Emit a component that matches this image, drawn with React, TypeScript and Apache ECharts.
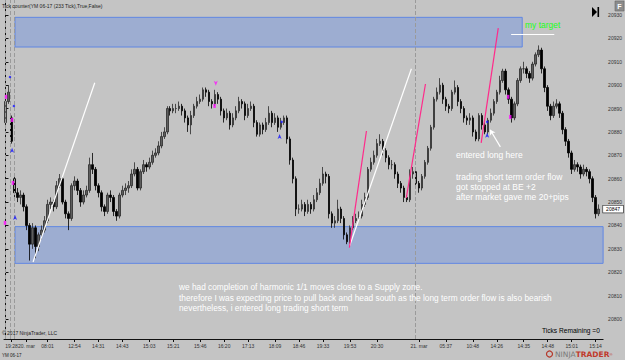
import React, { useEffect, useRef } from 'react';
import * as echarts from 'echarts';

// ---- candle data (233-tick bars, YM 06-17) ----
const opens = [
  20884, 20893, 20886,
  20860, 20854, 20852, 20853, 20848, 20840, 20832, 20839, 20831, 20836,
  20838, 20842, 20849, 20850, 20848, 20857, 20860, 20850, 20845, 20843,
  20857, 20859, 20855, 20850, 20853, 20855, 20866, 20864, 20857, 20854,
  20848, 20846, 20853, 20852, 20846, 20844, 20853, 20855, 20856, 20857,
  20862, 20864, 20856, 20863, 20866, 20865, 20867, 20870, 20871, 20874,
  20878, 20880, 20890, 20889, 20890, 20890, 20891, 20889, 20886, 20883,
  20887, 20891, 20893, 20894, 20898, 20897, 20893, 20892, 20896, 20894,
  20889, 20886, 20888, 20883, 20886, 20889, 20893, 20892, 20887, 20890,
  20891, 20884, 20879, 20883, 20881, 20884, 20888, 20884, 20886, 20882,
  20884, 20886, 20877, 20868, 20860, 20847, 20847, 20849, 20846, 20849,
  20847, 20851, 20854, 20858, 20862, 20861, 20845, 20841, 20842, 20847,
  20843, 20836, 20833, 20839, 20842, 20843, 20844, 20849, 20852, 20864,
  20867, 20870, 20875, 20876, 20872, 20869, 20866, 20866, 20862, 20858,
  20856, 20852, 20851, 20862, 20863, 20858, 20856, 20861, 20867, 20873,
  20882, 20894, 20897, 20900, 20894, 20891, 20890, 20897, 20899, 20893,
  20890, 20886, 20885, 20886, 20880, 20877, 20887, 20883, 20880, 20885,
  20888, 20893, 20897, 20902, 20906, 20898, 20894, 20886, 20892, 20902,
  20907, 20907, 20905, 20903, 20909, 20913, 20915, 20907, 20899, 20891,
  20887, 20891, 20892, 20888, 20881, 20876, 20871, 20864, 20866, 20865,
  20862, 20864, 20863, 20860, 20852, 20845,
];
const closes = [
  20893, 20897, 20876,
  20854, 20852, 20853, 20848, 20840, 20832, 20839, 20831, 20836, 20838,
  20842, 20849, 20850, 20848, 20857, 20860, 20850, 20845, 20843, 20857,
  20859, 20855, 20850, 20853, 20855, 20866, 20864, 20857, 20854, 20848,
  20846, 20853, 20852, 20846, 20844, 20853, 20855, 20856, 20857, 20862,
  20864, 20856, 20863, 20866, 20865, 20867, 20870, 20871, 20874, 20878,
  20880, 20890, 20889, 20890, 20890, 20891, 20889, 20886, 20883, 20887,
  20891, 20893, 20894, 20898, 20897, 20893, 20892, 20896, 20894, 20889,
  20886, 20888, 20883, 20886, 20889, 20893, 20892, 20887, 20890, 20891,
  20884, 20879, 20883, 20881, 20884, 20888, 20884, 20886, 20882, 20884,
  20886, 20877, 20868, 20860, 20847, 20847, 20849, 20846, 20849, 20847,
  20851, 20854, 20858, 20862, 20861, 20845, 20841, 20842, 20847, 20843,
  20836, 20833, 20839, 20842, 20843, 20844, 20849, 20852, 20864, 20867,
  20870, 20875, 20876, 20872, 20869, 20866, 20866, 20862, 20858, 20856,
  20852, 20851, 20862, 20863, 20858, 20856, 20861, 20867, 20873, 20882,
  20894, 20897, 20900, 20894, 20891, 20890, 20897, 20899, 20893, 20890,
  20886, 20885, 20886, 20880, 20877, 20887, 20883, 20880, 20885, 20888,
  20893, 20897, 20902, 20906, 20898, 20894, 20886, 20892, 20902, 20907,
  20907, 20905, 20903, 20909, 20913, 20915, 20907, 20899, 20891, 20887,
  20891, 20892, 20888, 20881, 20876, 20871, 20864, 20866, 20865, 20862,
  20864, 20863, 20860, 20852, 20845, 20847,
];
const highs = [
  20894, 20900, 20887,
  20861, 20856, 20855, 20854, 20849, 20841, 20841, 20840, 20837, 20840,
  20844, 20851, 20852, 20851, 20859, 20862, 20861, 20851, 20846, 20858,
  20861, 20860, 20856, 20855, 20857, 20869, 20871, 20865, 20858, 20855,
  20849, 20854, 20855, 20853, 20847, 20854, 20857, 20858, 20859, 20864,
  20867, 20865, 20864, 20868, 20867, 20869, 20872, 20873, 20876, 20880,
  20882, 20891, 20891, 20892, 20892, 20893, 20892, 20890, 20887, 20889,
  20892, 20895, 20896, 20899, 20899, 20898, 20894, 20898, 20897, 20895,
  20890, 20890, 20889, 20888, 20891, 20895, 20894, 20893, 20892, 20893,
  20892, 20885, 20884, 20884, 20886, 20891, 20889, 20888, 20887, 20886,
  20887, 20887, 20878, 20869, 20861, 20849, 20851, 20850, 20851, 20850,
  20853, 20856, 20860, 20865, 20863, 20862, 20846, 20844, 20851, 20848,
  20844, 20837, 20840, 20844, 20845, 20846, 20851, 20854, 20865, 20869,
  20872, 20877, 20879, 20877, 20873, 20870, 20868, 20867, 20863, 20859,
  20857, 20853, 20864, 20865, 20864, 20859, 20862, 20868, 20874, 20883,
  20895, 20899, 20903, 20901, 20895, 20892, 20898, 20902, 20900, 20894,
  20891, 20887, 20888, 20887, 20881, 20888, 20888, 20884, 20886, 20890,
  20894, 20898, 20904, 20907, 20907, 20899, 20895, 20893, 20903, 20908,
  20910, 20908, 20906, 20910, 20914, 20917, 20916, 20908, 20900, 20892,
  20893, 20894, 20893, 20889, 20882, 20877, 20872, 20868, 20867, 20866,
  20866, 20865, 20864, 20861, 20853, 20849,
];
const lows = [
  20882, 20892, 20875,
  20851, 20850, 20849, 20846, 20838, 20825, 20830, 20826, 20829, 20834,
  20837, 20841, 20847, 20846, 20847, 20856, 20849, 20843, 20838, 20842,
  20855, 20853, 20848, 20849, 20852, 20854, 20862, 20855, 20852, 20846,
  20844, 20845, 20850, 20844, 20842, 20843, 20852, 20853, 20854, 20856,
  20861, 20855, 20855, 20862, 20863, 20864, 20866, 20869, 20870, 20873,
  20877, 20879, 20887, 20888, 20888, 20889, 20887, 20884, 20880, 20879,
  20886, 20890, 20892, 20893, 20895, 20891, 20890, 20891, 20892, 20887,
  20884, 20885, 20881, 20882, 20885, 20888, 20890, 20885, 20886, 20889,
  20882, 20878, 20878, 20879, 20880, 20883, 20882, 20883, 20880, 20881,
  20883, 20875, 20866, 20858, 20844, 20845, 20846, 20844, 20845, 20845,
  20846, 20850, 20853, 20857, 20858, 20843, 20839, 20839, 20841, 20841,
  20834, 20832, 20832, 20838, 20841, 20842, 20843, 20848, 20851, 20863,
  20866, 20869, 20874, 20870, 20867, 20864, 20864, 20860, 20856, 20854,
  20850, 20850, 20850, 20860, 20856, 20854, 20855, 20860, 20866, 20872,
  20881, 20893, 20896, 20892, 20889, 20888, 20889, 20896, 20891, 20888,
  20884, 20883, 20883, 20878, 20876, 20876, 20881, 20879, 20879, 20884,
  20887, 20892, 20896, 20901, 20896, 20892, 20884, 20885, 20891, 20901,
  20905, 20903, 20901, 20902, 20908, 20912, 20905, 20897, 20889, 20885,
  20886, 20890, 20886, 20879, 20874, 20869, 20862, 20863, 20863, 20860,
  20861, 20861, 20858, 20850, 20843, 20844,
];

const CATEGORY_COUNT = 200;
const xTickLabels: [number, string][] = [
  [2, '19:28'], [7, '20. mar'], [14, '08:01'], [23, '12:54'], [31, '14:31'],
  [39, '14:43'], [48, '15:03'], [56, '15:21'], [65, '15:46'], [73, '16:20'],
  [81, '17:13'], [90, '18:09'], [98, '18:46'], [106, '19:33'], [115, '19:53'],
  [124, '20:30'], [138, '21. mar'], [147, '05:37'], [156, '10:48'], [164, '14:26'],
  [173, '14:35'], [181, '14:48'], [189, '15:01'], [197, '15:14'],
];
const Y_MIN = 20791.45;
const Y_MAX = 20936.41;

// zones: [xStart, priceTop, xEnd, priceBottom] in bar-index / price units
const targetZone = [3.17, 20929, 172.5, 20916.3];
const supplyZone = [3.17, 20839.5, 199.5, 20823.8];
const sessionBreaks = [-0.1, 1.6, 2.9];
const dayBreak = [136.8];

const whiteLines = [
  [[9.2, 20824.4], [29.8, 20901]],
  [[114.8, 20831], [135.5, 20907]],
  [[168.8, 20921.9], [183.2, 20921.9]],
];
const pinkLines = [
  [[114.8, 20830.5], [120.5, 20880.4]],
  [[133.8, 20851.8], [140.2, 20900.5]],
  [[158.8, 20875.3], [164.5, 20924.4]],
];
const entryArrow = [[165.2, 20873.6], [161.8, 20880.9]];

const blueDots = [[1.5, 20903.5], [2.8, 20891.1], [92.2, 20884.3], [160.8, 20884.3]];
const blueUpArrows = [[2.2, 20873.2], [3.2, 20844.5], [91.5, 20879.1], [160.8, 20879.6]];
const magentaMarks = [[0.17, 20895], [2.2, 20885.1], [2.5, 20858.2], [-0.17, 20841.1], [69.8, 20891.1], [167.8, 20895], [168.5, 20886.4]];
const magentaDownArrows = [[70.2, 20899.7]];

const FONT = '"Liberation Sans", Arial, sans-serif';

function App() {
  const ref = useRef<HTMLDivElement>(null);
  useEffect(() => {
    if (!ref.current) return;
    const chart = echarts.init(ref.current, undefined, { renderer: 'svg' });
    const labelMap: Record<number, string> = {};
    xTickLabels.forEach(([i, s]) => (labelMap[i] = s));
    const categories = Array.from({ length: CATEGORY_COUNT }, (_, i) => String(i));
    const candleData = opens.map((o, i) => [o, closes[i], lows[i], highs[i]]);
    const lastClose = closes[closes.length - 1];

    const texts = (items: { t: string; x: number; y: number; size: number; fill: string; font?: string }[]) =>
      items.map((it) => ({
        type: 'text',
        x: it.x,
        y: it.y,
        silent: true,
        z: 100,
        style: { text: it.t, fill: it.fill, fontSize: it.size, fontFamily: it.font || FONT, verticalAlign: 'middle' },
      }));

    chart.setOption({
      animation: false,
      backgroundColor: '#c4c4c4',
      textStyle: { fontFamily: FONT },
      grid: { left: 4, right: 21, top: 0, bottom: 21 },
      xAxis: [
        {
          type: 'category',
          data: categories,
          boundaryGap: true,
          axisLine: { show: true, lineStyle: { color: '#111', width: 1 } },
          axisTick: {
            show: true,
            alignWithLabel: true,
            length: 3,
            interval: (i: number) => labelMap[i] !== undefined,
            lineStyle: { color: '#111' },
          },
          axisLabel: {
            interval: 0,
            fontSize: 5,
            color: '#333',
            margin: 4,
            formatter: (_v: string, i: number) => labelMap[i] || '',
          },
          splitLine: { show: false },
        },
        { type: 'value', min: -0.5, max: CATEGORY_COUNT - 0.5, show: false },
      ],
      yAxis: {
        type: 'value',
        position: 'right',
        min: Y_MIN,
        max: Y_MAX,
        splitNumber: 14,
        axisLine: { show: true, lineStyle: { color: '#111', width: 1 } },
        axisTick: { show: true, length: 3, lineStyle: { color: '#111' } },
        axisLabel: {
          fontSize: 5,
          color: '#333',
          margin: 5,
          showMinLabel: false,
          showMaxLabel: false,
          formatter: (v: number) => {
            const r = Math.round(v);
            return Math.abs(v - r) < 0.01 && r % 10 === 0 ? String(r) : '';
          },
        },
        splitLine: { show: false },
      },
      series: [
        {
          type: 'line',
          xAxisIndex: 1,
          data: [],
          z: 1,
          silent: true,
          markLine: {
            silent: true,
            symbol: ['none', 'none'],
            label: { show: false },
            lineStyle: { color: '#9a9a9a', type: 'dashed', width: 1 },
            data: [...sessionBreaks, ...dayBreak].map((v) => ({ xAxis: v })),
          },
        },
        {
          type: 'candlestick',
          data: candleData,
          barWidth: 2,
          z: 2,
          itemStyle: {
            color: '#5e5e5e',
            color0: '#000',
            borderColor: '#2a2a2a',
            borderColor0: '#000',
            borderWidth: 0.8,
          },
          markLine: {
            silent: true,
            symbol: ['none', 'none'],
            lineStyle: { color: 'transparent', width: 0 },
            label: {
              show: true,
              position: 'end',
              distance: 0,
              formatter: String(lastClose),
              backgroundColor: '#ffffff',
              borderColor: '#222',
              borderWidth: 0.6,
              padding: [1, 3],
              fontSize: 5,
              color: '#000',
            },
            data: [{ yAxis: lastClose }],
          },
        },
        {
          type: 'line',
          xAxisIndex: 1,
          data: [],
          z: 3,
          silent: true,
          markArea: {
            silent: true,
            itemStyle: { color: 'rgba(100,140,230,0.4)', borderColor: '#6187e2', borderWidth: 1 },
            data: [targetZone, supplyZone].map((z) => [
              { coord: [z[0], z[1]] },
              { coord: [z[2], z[3]] },
            ]),
          },
        },
        {
          type: 'line',
          xAxisIndex: 1,
          data: [],
          z: 4,
          silent: true,
          markLine: {
            silent: true,
            symbol: ['none', 'none'],
            label: { show: false },
            lineStyle: { color: '#ffffff', type: 'solid', width: 1.2 },
            data: whiteLines.map((l) => [{ coord: l[0] }, { coord: l[1] }]),
          },
        },
        {
          type: 'line',
          xAxisIndex: 1,
          data: [],
          z: 4,
          silent: true,
          markLine: {
            silent: true,
            symbol: ['none', 'none'],
            label: { show: false },
            lineStyle: { color: '#ff2a8a', type: 'solid', width: 1.2 },
            data: pinkLines.map((l) => [{ coord: l[0] }, { coord: l[1] }]),
          },
        },
        {
          type: 'line',
          xAxisIndex: 1,
          data: [],
          z: 4,
          silent: true,
          markLine: {
            silent: true,
            symbol: ['none', 'arrow'],
            symbolSize: 5,
            label: { show: false },
            lineStyle: { color: '#ffffff', type: 'solid', width: 1.2 },
            data: [[{ coord: entryArrow[0] }, { coord: entryArrow[1] }]],
          },
        },
        {
          type: 'scatter',
          xAxisIndex: 1,
          data: blueDots,
          symbol: 'circle',
          symbolSize: 2.5,
          itemStyle: { color: '#1414ff' },
          z: 5,
          silent: true,
        },
        {
          type: 'scatter',
          xAxisIndex: 1,
          data: blueUpArrows,
          symbol: 'arrow',
          symbolSize: [3, 5],
          itemStyle: { color: '#1414ff' },
          z: 5,
          silent: true,
        },
        {
          type: 'scatter',
          xAxisIndex: 1,
          data: magentaMarks,
          symbol: 'rect',
          symbolSize: [2.5, 4],
          itemStyle: { color: '#ff10ff' },
          z: 5,
          silent: true,
        },
        {
          type: 'scatter',
          xAxisIndex: 1,
          data: magentaDownArrows,
          symbol: 'arrow',
          symbolRotate: 180,
          symbolSize: [3, 5],
          itemStyle: { color: '#ff10ff' },
          z: 5,
          silent: true,
        },
      ],
      graphic: [
        ...texts([
          { t: 'Tick counter(YM 06-17 (233 Tick),True,False)', x: 2, y: 6, size: 5, fill: '#222' },
          { t: 'my target', x: 525, y: 25, size: 8.5, fill: '#19ff19' },
          { t: 'entered long here', x: 456, y: 154.5, size: 8.5, fill: '#ffffff' },
          { t: 'trading short term order flow', x: 456, y: 176.5, size: 8.5, fill: '#ffffff' },
          { t: 'got stopped at BE +2', x: 456, y: 186.5, size: 8.5, fill: '#ffffff' },
          { t: 'after market gave me 20+pips', x: 456, y: 196.5, size: 8.5, fill: '#ffffff' },
          { t: 'we had completion of harmonic 1/1 moves close to a Supply zone.', x: 179, y: 287, size: 8.3, fill: '#ffffff' },
          { t: 'therefore I was expecting price to pull back and head south as the long term order flow is also bearish', x: 179, y: 297.5, size: 8.3, fill: '#ffffff' },
          { t: 'nevertheless, i entered long trading short term', x: 179, y: 307.5, size: 8.3, fill: '#ffffff' },
          { t: 'Ticks Remaining =0', x: 542, y: 330, size: 6.6, fill: '#000000' },
          { t: '\u00a9 2017 NinjaTrader, LLC', x: 2, y: 333, size: 5, fill: '#222' },
          { t: 'YM 06-17', x: 2, y: 355, size: 4.5, fill: '#222' },
        ]),
        {
          type: 'rect',
          shape: { x: 615, y: 1, width: 9, height: 10 },
          style: { fill: '#8c8c8c', stroke: '#666', lineWidth: 0.6 },
          z: 100,
          silent: true,
        },
        {
          type: 'text',
          x: 619.5,
          y: 6,
          z: 101,
          silent: true,
          style: { text: 'F', fill: '#fff', fontSize: 7, fontWeight: 'bold', fontFamily: FONT, align: 'center', verticalAlign: 'middle' },
        },
        {
          type: 'polygon',
          shape: { points: [[592, 7], [592, 17], [597, 12]] },
          style: { fill: '#000' },
          z: 100,
          silent: true,
        },
        {
          type: 'rect',
          shape: { x: 597.5, y: 7, width: 1.6, height: 10 },
          style: { fill: '#000' },
          z: 100,
          silent: true,
        },
        {
          type: 'circle',
          shape: { cx: 549.5, cy: 354, r: 3 },
          style: { fill: 'none', stroke: '#b5372a', lineWidth: 1.2 },
          z: 100,
          silent: true,
        },
        {
          type: 'text',
          x: 555,
          y: 354,
          z: 100,
          silent: true,
          style: {
            text: '{a|NINJA}{b|TRADER}{c|\u00ae}',
            verticalAlign: 'middle',
            rich: {
              a: { fill: '#7a7a7a', fontSize: 7.5, fontFamily: '"DejaVu Sans", sans-serif' },
              b: { fill: '#c0392b', fontSize: 7.5, fontFamily: '"DejaVu Sans", sans-serif', fontWeight: 'bold' },
              c: { fill: '#c0392b', fontSize: 4, fontFamily: FONT },
            },
          },
        },
      ],
    });
    return () => chart.dispose();
  }, []);
  return <div ref={ref} style={{ position: 'fixed', left: 0, top: 0, width: 625, height: 360 }} />;
}

export default App;
